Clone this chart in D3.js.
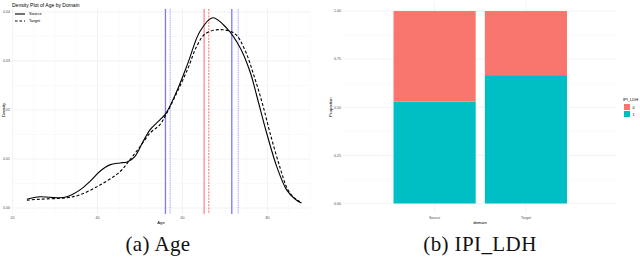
<!DOCTYPE html>
<meta charset="utf-8">
<head>
  <title>age-ipi</title>
</head>
<style>
  body { margin: 0; background: #fff; }
  text { font-family: "Liberation Sans", Arial, sans-serif; }
  .tick { fill: #4d4d4d; font-size: 3.6px; }
  .grid { stroke: #ebebeb; stroke-width: 0.6; }
  .minor { stroke: #f3f3f3; stroke-width: 0.4; }
  .cap { font-family: "Liberation Serif", "DejaVu Serif", serif; font-size: 21px; fill: #111; letter-spacing: 0.4px; }
</style>
<body>
  <svg width="640" height="264"></svg>

  <script src="https://cdnjs.cloudflare.com/ajax/libs/d3/7.8.5/d3.min.js"></script>
  <script>
    // density curves (age, density)
    var sourceAge = [23.4, 26.5, 30.5, 32.8, 35.9, 38.2, 40.6, 42.9, 45.3, 47.0, 48.8, 50.7, 52.4, 54.7, 56.1, 58.5, 61.3, 64.1, 67.1, 70.4, 73.5, 75.9, 77.5, 79.8, 82.2, 84.5, 86.4, 88.0]
    var sourceDens = [0.0018, 0.0023, 0.0021, 0.0023, 0.0037, 0.0054, 0.0075, 0.0088, 0.0092, 0.0094, 0.0105, 0.0135, 0.0160, 0.0180, 0.0193, 0.0235, 0.0296, 0.0360, 0.0388, 0.0367, 0.0328, 0.0278, 0.0228, 0.0153, 0.0084, 0.0037, 0.0019, 0.0010]
    var targetAge = [23.4, 26.5, 32.8, 35.9, 40.6, 45.3, 47.6, 50.0, 52.4, 54.7, 56.1, 58.5, 61.3, 63.3, 65.3, 68.8, 72.4, 74.7, 77.0, 78.9, 80.6, 82.9, 84.8, 86.4, 87.6]
    var targetDens = [0.0016, 0.0018, 0.0021, 0.0027, 0.0047, 0.0074, 0.0098, 0.0125, 0.0153, 0.0170, 0.0190, 0.0232, 0.0285, 0.0329, 0.0355, 0.0364, 0.0355, 0.0322, 0.0265, 0.0210, 0.0153, 0.0084, 0.0037, 0.0020, 0.0013]
    // reference lines: means and mean +/- sd per domain
    var sourceLines = [56.0, 65.1, 71.6]
    var targetLines = [57.1, 66.2, 73.1]
    var xTicks = [20, 40, 60, 80]
    var yTicks = [0, 0.01, 0.02, 0.03, 0.04]

    // stacked proportions
    var domains = ['Source', 'Target']
    var levels = ['0', '1']
    var prop1 = [0.529, 0.667]
    var propTicks = [0, 0.25, 0.5, 0.75, 1]
    var fillColors = ['#F8766D', '#00BFC4']

    var svg = d3.select('svg')

    // ---------- left panel ----------
    var x = d3.scaleLinear().domain([19.9, 90]).range([12, 310])
    var y = d3.scaleLinear().domain([-0.00122, 0.0406]).range([214, 9])

    var L = svg.append('g')
    d3.range(20, 91, 5).forEach(function(v) {
      L.append('line').attr('class', v % 20 == 0 ? 'grid' : 'minor')
        .attr('x1', x(v)).attr('x2', x(v)).attr('y1', 9).attr('y2', 214)
    })
    d3.range(0, 0.041, 0.005).forEach(function(v, i) {
      L.append('line').attr('class', i % 2 == 0 ? 'grid' : 'minor')
        .attr('x1', 12).attr('x2', 310).attr('y1', y(v)).attr('y2', y(v))
    })

    yTicks.forEach(function(v) {
      L.append('text').attr('class', 'tick').attr('x', 10).attr('y', y(v) + 1.3)
        .attr('text-anchor', 'end').text(v.toFixed(2))
    })
    xTicks.forEach(function(v) {
      L.append('text').attr('class', 'tick').attr('x', x(v)).attr('y', 218.5)
        .attr('text-anchor', 'middle').text(v)
    })
    L.append('text').attr('x', 161).attr('y', 223.5).attr('text-anchor', 'middle')
      .style('font-size', '4.2px').text('Age')
    L.append('text').attr('transform', 'translate(4.5,110) rotate(-90)')
      .attr('text-anchor', 'middle').style('font-size', '4.2px').text('Density')
    L.append('text').attr('x', 12).attr('y', 6.5).style('font-size', '5px').text('Density Plot of Age by Domain')

    // reference lines
    sourceLines.forEach(function(v, i) {
      L.append('line').attr('x1', x(v)).attr('x2', x(v)).attr('y1', 9).attr('y2', 214)
        .attr('stroke', i == 1 ? '#ff8c8c' : '#7a7aff').attr('stroke-width', 1.3)
    })
    targetLines.forEach(function(v, i) {
      L.append('line').attr('x1', x(v)).attr('x2', x(v)).attr('y1', 9).attr('y2', 214)
        .attr('stroke', i == 1 ? '#ff5a5a' : '#8a8aff').attr('stroke-width', 0.9)
        .attr('stroke-dasharray', i == 1 ? '2,1.2' : '1,0.8')
    })

    var line = d3.line().curve(d3.curveCatmullRom.alpha(0.5))
      .x(function(d) { return x(d[0]) }).y(function(d) { return y(d[1]) })

    L.append('path').datum(d3.zip(sourceAge, sourceDens)).attr('d', line)
      .attr('fill', 'none').attr('stroke', '#000').attr('stroke-width', 1.1)
    L.append('path').datum(d3.zip(targetAge, targetDens)).attr('d', line)
      .attr('fill', 'none').attr('stroke', '#000').attr('stroke-width', 1.1)
      .attr('stroke-dasharray', '3,2')

    // legend
    ;[['Source', null, 14], ['Target', '2.5,2', 21]].forEach(function(r) {
      L.append('line').attr('x1', 15).attr('x2', 25).attr('y1', r[2]).attr('y2', r[2])
        .attr('stroke', '#000').attr('stroke-width', 1.1).attr('stroke-dasharray', r[1])
      L.append('text').attr('x', 29).attr('y', r[2] + 1.4).style('font-size', '4px').text(r[0])
    })

    // ---------- right panel ----------
    var xb = d3.scaleBand().domain(domains).range([343.3, 617.2]).paddingInner(0.1).paddingOuter(0.6 - 0.05)
    var yb = d3.scaleLinear().domain([-0.05, 1.05]).range([213.1, 1.4])

    var R = svg.append('g')
    d3.range(0, 1.01, 0.125).forEach(function(v, i) {
      R.append('line').attr('class', i % 2 == 0 ? 'grid' : 'minor')
        .attr('x1', 343.3).attr('x2', 617.2).attr('y1', yb(v)).attr('y2', yb(v))
    })
    domains.forEach(function(d) {
      R.append('line').attr('class', 'grid').attr('x1', xb(d) + xb.bandwidth() / 2)
        .attr('x2', xb(d) + xb.bandwidth() / 2).attr('y1', 1.4).attr('y2', 213.1)
    })

    var stacks = domains.map(function(d, i) {
      return [{ lev: '1', y0: 0, y1: prop1[i] }, { lev: '0', y0: prop1[i], y1: 1 }]
    })
    domains.forEach(function(d, i) {
      R.selectAll(null).data(stacks[i]).enter().append('rect')
        .attr('x', xb(d)).attr('width', xb.bandwidth())
        .attr('y', function(s) { return yb(s.y1) })
        .attr('height', function(s) { return yb(s.y0) - yb(s.y1) })
        .attr('fill', function(s) { return fillColors[levels.indexOf(s.lev)] })
    })

    propTicks.forEach(function(v) {
      R.append('text').attr('class', 'tick').attr('x', 341).attr('y', yb(v) + 1.3)
        .attr('text-anchor', 'end').text(v.toFixed(2))
    })
    domains.forEach(function(d) {
      R.append('text').attr('class', 'tick').attr('x', xb(d) + xb.bandwidth() / 2).attr('y', 218.5)
        .attr('text-anchor', 'middle').text(d)
    })
    R.append('text').attr('x', 480).attr('y', 223.5).attr('text-anchor', 'middle')
      .style('font-size', '4.2px').text('domain')
    R.append('text').attr('transform', 'translate(332,107) rotate(-90)')
      .attr('text-anchor', 'middle').style('font-size', '4.2px').text('Proportion')

    R.append('text').attr('x', 623).attr('y', 101).style('font-size', '4px').text('IPI_LDH')
    levels.forEach(function(l, i) {
      R.append('rect').attr('x', 624).attr('y', 104 + i * 7).attr('width', 6).attr('height', 6)
        .attr('fill', fillColors[i])
      R.append('text').attr('x', 632.5).attr('y', 108.5 + i * 7).style('font-size', '3.8px').text(l)
    })

    // captions
    svg.append('text').attr('class', 'cap').attr('x', 158).attr('y', 251).attr('text-anchor', 'middle').text('(a) Age')
    svg.append('text').attr('class', 'cap').attr('x', 480).attr('y', 251).attr('text-anchor', 'middle').text('(b) IPI_LDH')
  </script>
</body>
</html>
